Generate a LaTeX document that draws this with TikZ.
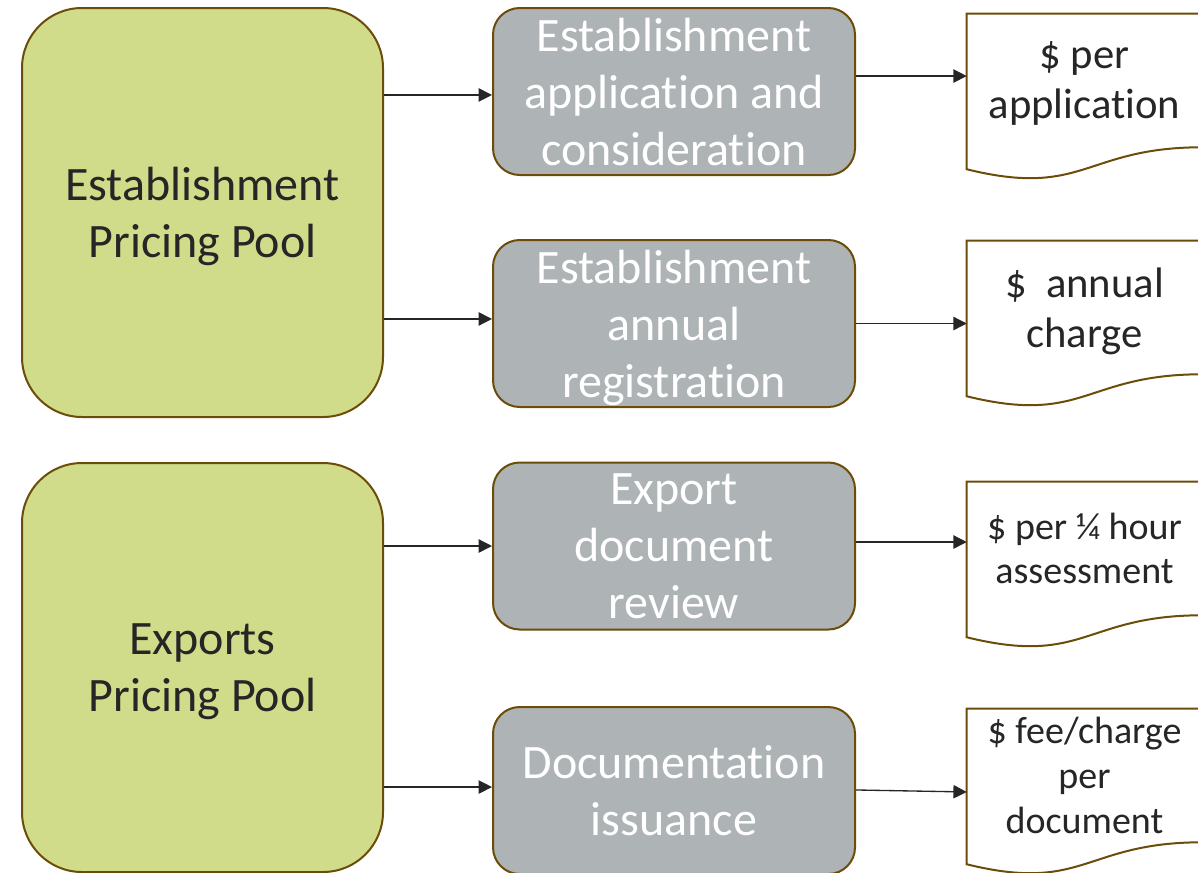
\documentclass[tikz,border=0pt]{standalone}
\usepackage{fontspec}
\setmainfont{Carlito}[Ligatures=NoCommon]
\usepackage{xcolor}
\usetikzlibrary{shapes,arrows,positioning,calc,arrows.meta,backgrounds}

\definecolor{poolgreen}{RGB}{209,220,138}
\definecolor{taskgrey}{RGB}{174,179,182}
\definecolor{rimbrown}{RGB}{107,76,8}
\definecolor{inkdark}{RGB}{38,38,38}

\tikzset{
    pool/.style={draw=rimbrown, line width=1.5pt, fill=poolgreen, rounded corners=45pt,
        minimum width=270.75pt, minimum height=306.75pt, align=center, text=inkdark,
        font=\fontsize{36}{42.75}\selectfont, text depth=-1.5pt},
    task/.style={draw=rimbrown, line width=1.5pt, fill=taskgrey, rounded corners=20pt,
        minimum width=271.5pt, minimum height=125.25pt, align=center, text=white,
        font=\fontsize{36}{42.75}\selectfont, text depth=-2.5pt},
    price/.style={minimum width=176.25pt, minimum height=99.75pt, align=center, text=inkdark,
        inner sep=0pt},
    bigprice/.style={price, font=\fontsize{32}{37.5}\selectfont, text depth=-1.5pt},
    smallprice/.style={price, font=\fontsize{28.5}{33.6}\selectfont},
    arr/.style={draw=inkdark, line width=1pt, -{Triangle[length=10pt,width=10pt]}}
}

\begin{document}
\begin{tikzpicture}[x=0.75pt,y=-0.75pt]
    \useasboundingbox (0,0) rectangle (1198,872);

    % pricing pools
    \node[pool] (e1) at (202.5,212.5) {Establishment\\Pricing Pool};
    \node[pool] (e2) at (202.5,667.5) {Exports\\Pricing Pool};

    % activities
    \node[task] (g1) at (674,91.5) {Establishment\\application and\\consideration};
    \node[task] (g2) at (674,323.5) {Establishment\\annual\\registration};
    \node[task] (g3) at (674,546) {Export\\document\\review};
    \node[task] (g4) at (674,790.5) {Documentation\\issuance};

    % charges
    \node[bigprice] (d1) at (1084.5,80.5) {\$ per\\application};
    \node[bigprice] (d2) at (1084.5,307.5) {\$~ annual\\charge};
    \node[smallprice] (d3) at (1084.5,548.5) {\$ per ¼ hour\\assessment};
    \node[smallprice] (d4) at (1084.5,775.5) {\$ fee/charge\\per\\document};

    \begin{scope}[on background layer]
    \foreach \d in {d1,d2,d3,d4} {
        \draw[rimbrown, line width=1.5pt, fill=white]
            (\d.north west) -- (\d.north east) -- (\d.south east)
            .. controls (\d.south) and ([yshift=-38.25pt]\d.south)
            .. ([yshift=-16.5pt]\d.south west) -- cycle;
    }
    \end{scope}

    % connectors
    \foreach \p/\g/\s in {e1/g1/-2.6, e1/g2/3.4, e2/g3/0, e2/g4/2.6}
        \draw[arr] ([yshift=\s pt]\g.west -| \p.east) -- ([yshift=\s pt]\g.west);
    \foreach \g/\d/\s/\t in {g1/d1/11.6/11.6, g2/d2/0/0, g3/d3/3/3, g4/d4/0.4/-1.1}
        \draw[arr] ([yshift=\s pt]\g.east) -- ([yshift=\t pt]\g.east -| \d.west);
\end{tikzpicture}
\end{document}
